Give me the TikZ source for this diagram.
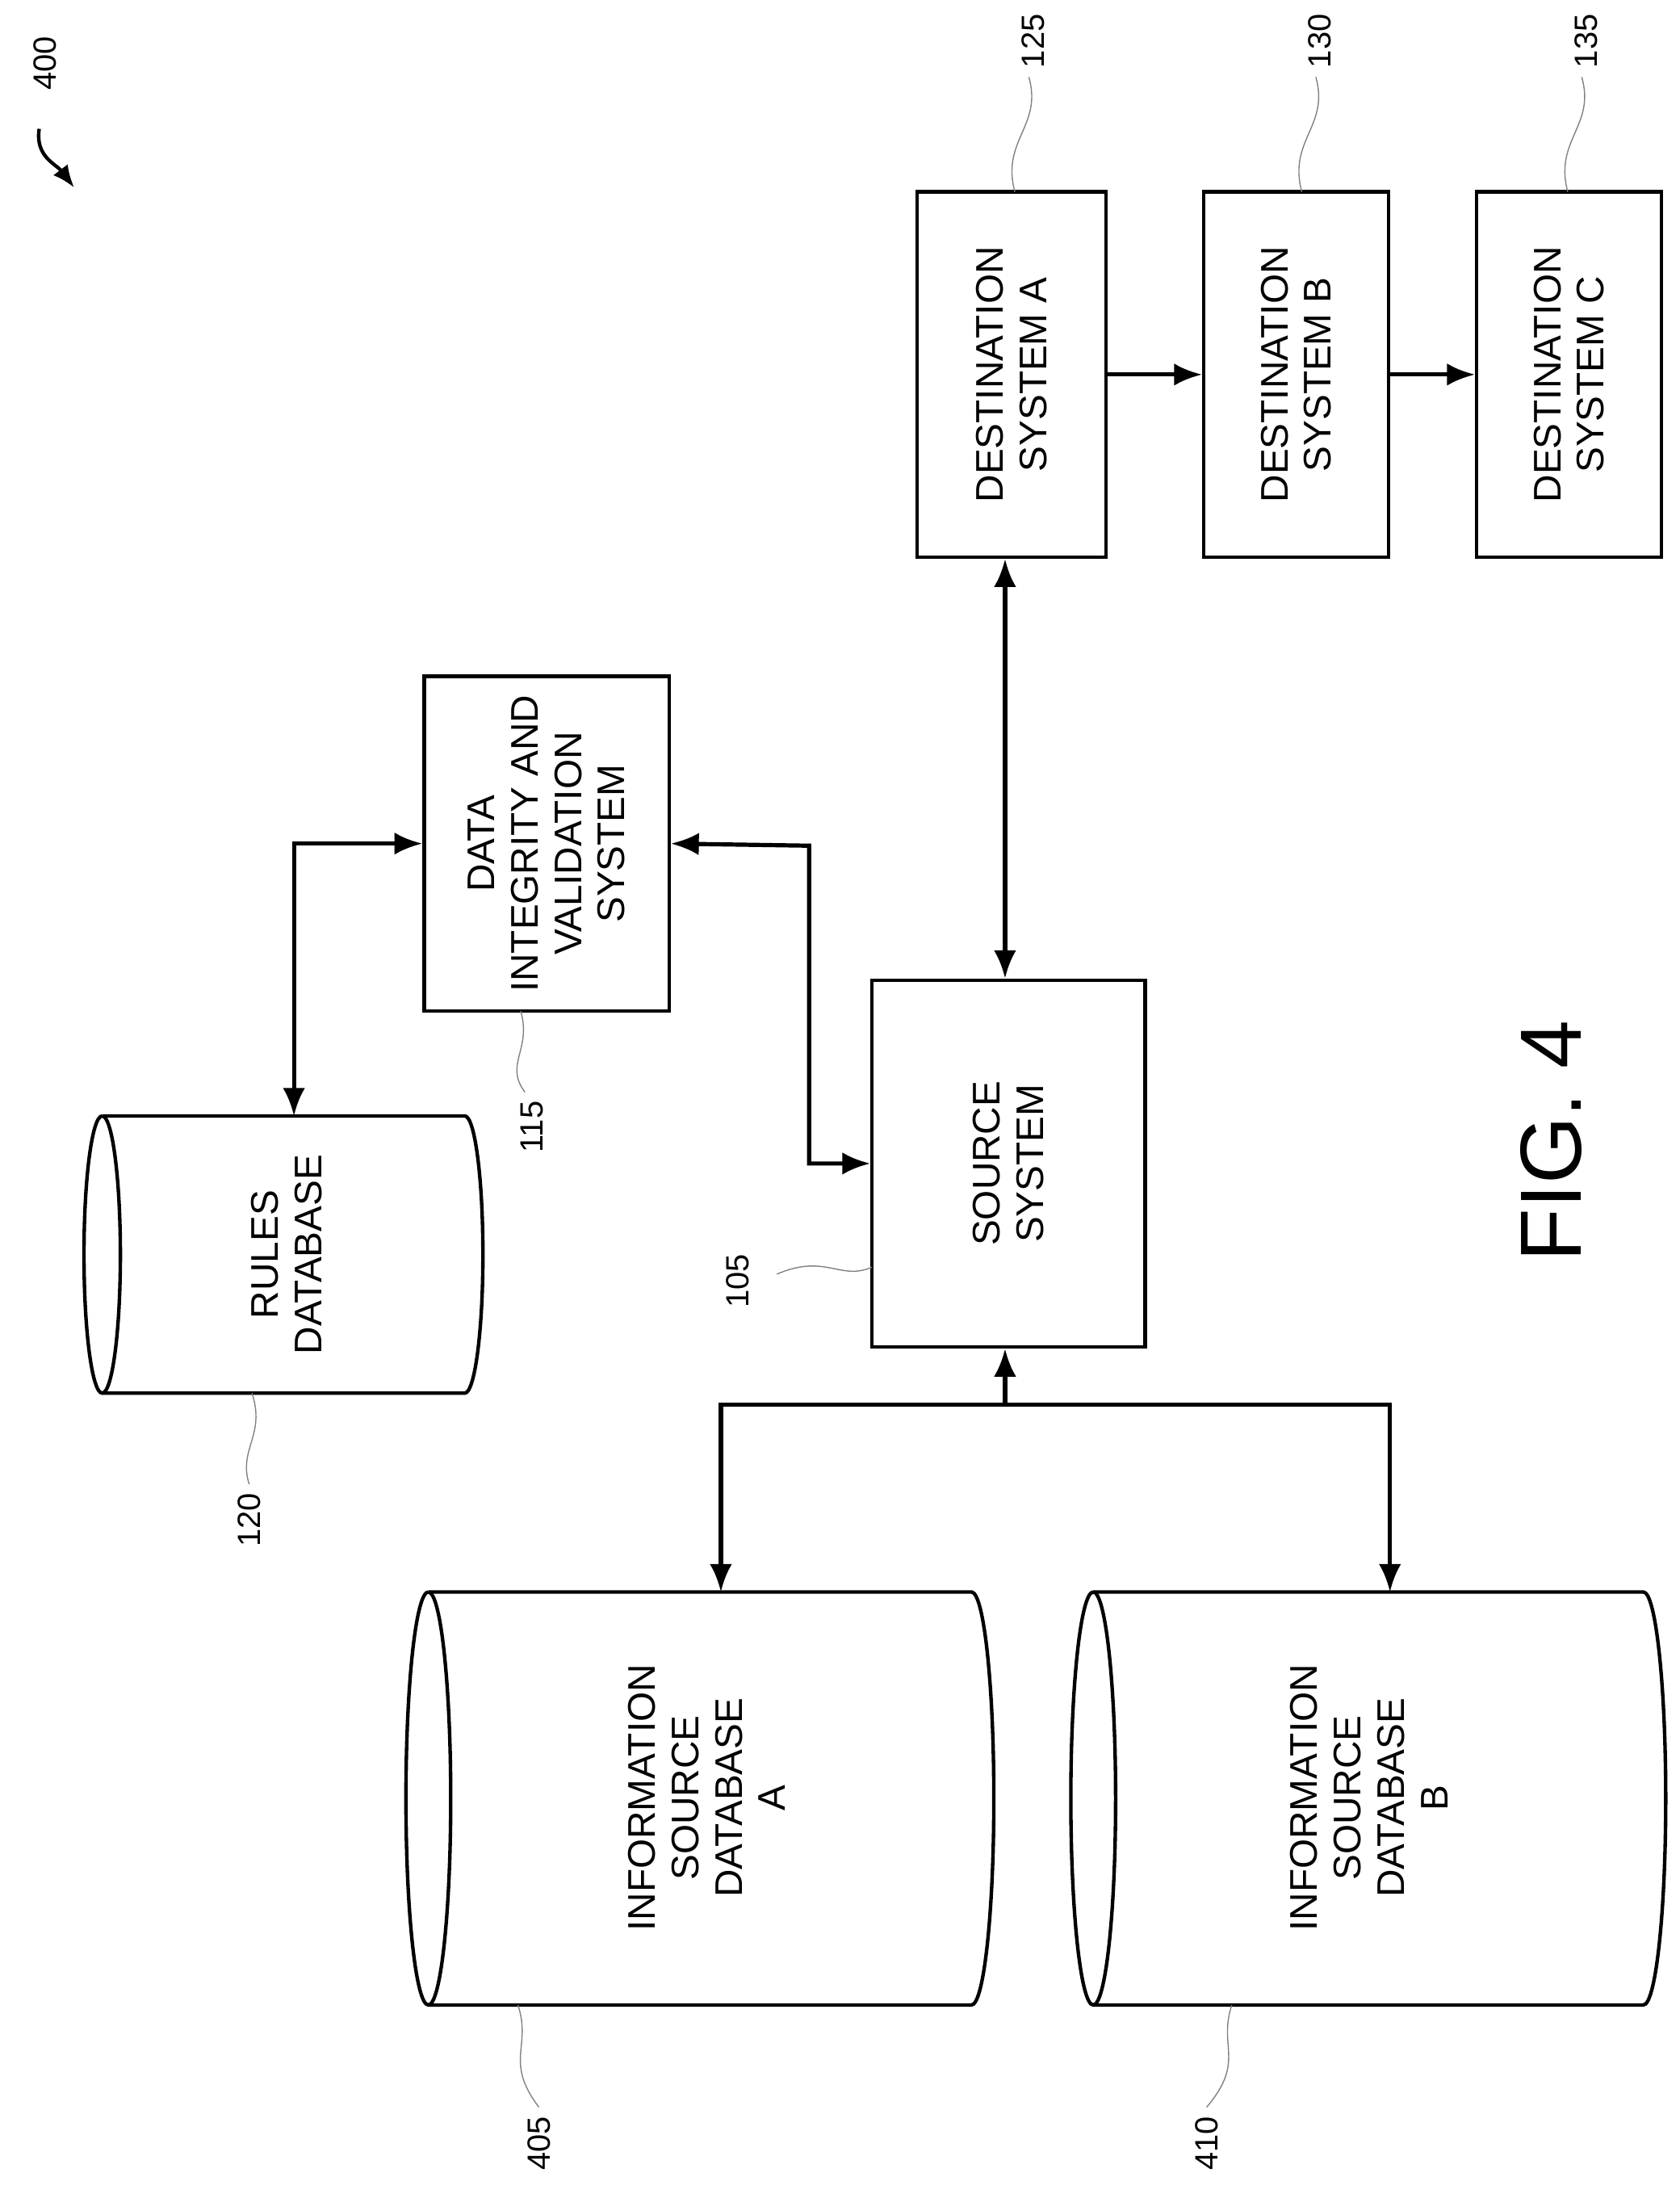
\documentclass[tikz,border=0pt]{standalone}
\usepackage{fontspec}
\setmainfont{Liberation Sans}
\usetikzlibrary{arrows.meta}
\tikzset{
	blk/.style={draw,line width=2.5pt,minimum width=#1,inner sep=0pt},
	txt/.style={rotate=90,align=center,font=\fontsize{27.5}{31}\selectfont},
	num/.style={rotate=90,font=\fontsize{23}{26}\selectfont},
	lnk/.style={line width=3pt,{Latex[length=20pt,width=16pt]}-{Latex[length=20pt,width=16pt]}},
	one/.style={line width=3pt,-{Latex[length=20pt,width=16pt]}},
	sq/.style={gray,line width=.8pt},
}
% horizontal cylinder: x0, x1, y0, y1, lens half width
\newcommand{\drum}[5]{
	\draw[line width=2.5pt] (#1+#5,#3) -- (#2-#5,#3)
		arc[start angle=-90,end angle=90,x radius=#5,y radius={(#4-#3)/2}]
		-- (#1+#5,#4)
		arc[start angle=90,end angle=270,x radius=#5,y radius={(#4-#3)/2}];
	\draw[line width=2.5pt] (#1+#5,#3)
		arc[start angle=-90,end angle=90,x radius=#5,y radius={(#4-#3)/2}];
}
\begin{document}
\begin{tikzpicture}[x=1pt,y=-1pt]
	\useasboundingbox (0,0) rectangle (1200,1567);
	% boxes
	\node[blk=261pt,minimum height=135pt,txt] (desta) at (722.5,267.5) {DESTINATION\\SYSTEM A};
	\node[blk=261pt,minimum height=132pt,txt] (destb) at (926,267.5) {DESTINATION\\SYSTEM B};
	\node[blk=261pt,minimum height=132pt,txt] (destc) at (1121,267.5) {DESTINATION\\SYSTEM C};
	\node[blk=239pt,minimum height=175pt,txt] (dival) at (390.5,602.5) {DATA\\INTEGRITY AND\\VALIDATION\\SYSTEM};
	\node[blk=262pt,minimum height=195pt,txt] (src) at (720.5,831) {SOURCE\\SYSTEM};

	% databases
	\drum{60}{345}{797}{995}{13}
	\node[txt] (rules) at (205,896) {RULES\\DATABASE};
	\coordinate (rulestop) at (210,797);
	\drum{290}{710}{1137}{1432}{16}
	\node[txt] (dbA) at (505,1284) {INFORMATION\\SOURCE\\DATABASE\\A};
	\coordinate (dbAtop) at (515,1137);
	\drum{765}{1190}{1137}{1432}{16}
	\node[txt] (dbB) at (978,1284) {INFORMATION\\SOURCE\\DATABASE\\B};
	\coordinate (dbBtop) at (993,1137);

	% connectors
	\draw[one] (desta.south) -- (destb.north);
	\draw[one] (destb.south) -- (destc.north);
	\draw[lnk] (rulestop) |- (dival.north);
	\draw[lnk] (dival.south) -- (578,604) |- (src.north);
	\draw[lnk] (src.east -| 718,0) -- (desta.west -| 718,0);
	\coordinate (split) at (718,1003);
	\draw[one] (split) -- (split |- src.west);
	\draw[one] (split) -| (dbAtop);
	\draw[one] (split) -| (dbBtop);

	% reference numbers
	\draw[sq] (725,137) .. controls (715,100) and (745,90) .. (735,55);
	\node[num,anchor=west] (n125) at (738,52) {125};
	\draw[sq] (930,137) .. controls (920,100) and (950,90) .. (940,55);
	\node[num,anchor=west] (n130) at (943,52) {130};
	\draw[sq] (1120,137) .. controls (1110,100) and (1140,90) .. (1130,55);
	\node[num,anchor=west] (n135) at (1133,52) {135};
	\draw[sq] (372,722) .. controls (380,750) and (360,760) .. (375,780);
	\node[num,anchor=east] (n115) at (380,783) {115};
	\draw[sq] (623,905) .. controls (600,915) and (590,895) .. (555,910);
	\node[num] (n105) at (527,915) {105};
	\draw[sq] (180,995) .. controls (190,1025) and (170,1035) .. (178,1060);
	\node[num,anchor=east] (n120) at (178,1063) {120};
	\draw[sq] (370,1432) .. controls (380,1462) and (360,1472) .. (385,1505);
	\node[num,anchor=east] (n405) at (385,1508) {405};
	\draw[sq] (880,1432) .. controls (870,1462) and (890,1472) .. (862,1505);
	\node[num,anchor=east] (n410) at (862,1508) {410};
	\node[num,anchor=west] (n400) at (32,68) {400};
	\draw[line width=2.5pt,-{Latex[length=16pt,width=13pt]}] (28,92) .. controls (25,112) and (40,117) .. (53,134);

	\node[rotate=90,font=\fontsize{62}{70}\selectfont] (fig) at (1108,815) {FIG. 4};
\end{tikzpicture}
\end{document}
